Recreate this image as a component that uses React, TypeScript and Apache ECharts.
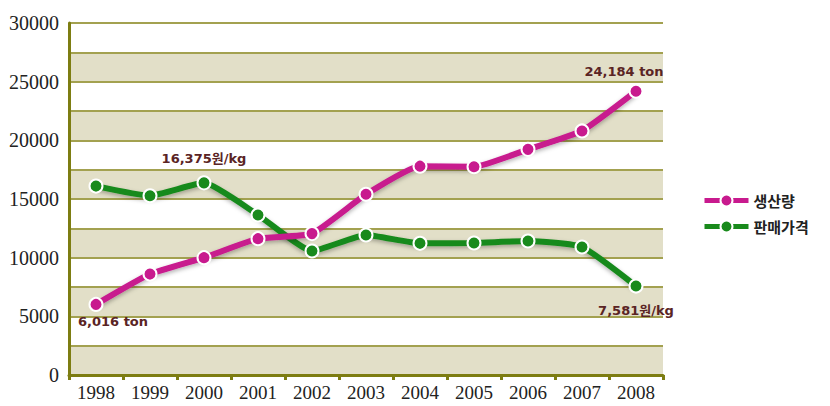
import React, { useEffect, useRef } from "react";
import * as echarts from "echarts";

const years = ["1998", "1999", "2000", "2001", "2002", "2003", "2004", "2005", "2006", "2007", "2008"];
const production = [6016, 8600, 10000, 11620, 12050, 15400, 17800, 17750, 19230, 20800, 24184];
const price = [16100, 15280, 16375, 13640, 10570, 11930, 11220, 11250, 11420, 10910, 7581];
const seriesNames = ["생산량", "판매가격"];
const prodLabels: Record<number, string> = { 0: "6,016 ton", 10: "24,184 ton" };
const priceLabels: Record<number, string> = { 2: "16,375원/kg", 10: "7,581원/kg" };

const labelFont = {
  color: "#5a2424",
  fontWeight: "bold" as const,
  fontSize: 13,
  fontFamily: "DejaVu Sans, Noto Sans CJK KR, sans-serif",
};

export default function App() {
  const ref = useRef<HTMLDivElement>(null);
  useEffect(() => {
    const chart = echarts.init(ref.current!, null, { renderer: "svg" });
    const prodData = production.map((v, i) => {
      if (prodLabels[i] === undefined) return v;
      return {
        value: v,
        label: {
          show: true,
          formatter: prodLabels[i],
          position: i === 0 ? "bottom" : "top",
          distance: i === 0 ? 3 : 6,
          offset: i === 0 ? [17, 0] : [-12, 0],
          ...labelFont,
        },
      };
    });
    const priceData = price.map((v, i) => {
      if (priceLabels[i] === undefined) return v;
      return {
        value: v,
        label: {
          show: true,
          formatter: priceLabels[i],
          position: i === 2 ? "top" : "bottom",
          distance: 10,
          offset: [0, 0],
          ...labelFont,
        },
      };
    });
    const axisColor = "#7d7d12";
    chart.setOption({
      animation: false,
      backgroundColor: "#ffffff",
      grid: { left: 69, right: 167, top: 23, bottom: 31 },
      legend: {
        orient: "vertical",
        left: 697,
        top: 188,
        itemWidth: 44,
        itemHeight: 15,
        itemGap: 11,
        data: seriesNames,
        lineStyle: { width: 5 },
        itemStyle: { borderWidth: 2, borderColor: "#ffffff" },
        textStyle: {
          color: "#222",
          fontWeight: "bold",
          fontSize: 15,
          fontFamily: "Noto Sans CJK KR, sans-serif",
        },
      },
      xAxis: {
        type: "category",
        data: years,
        boundaryGap: true,
        axisLine: { lineStyle: { color: axisColor, width: 3 } },
        axisTick: { show: true, alignWithLabel: false, length: 5, lineStyle: { color: axisColor, width: 3 } },
        axisLabel: {
          color: "#222",
          fontSize: 19,
          fontFamily: "Liberation Serif, serif",
          margin: 8,
        },
        splitLine: { show: false },
      },
      yAxis: {
        type: "value",
        min: 0,
        max: 30000,
        interval: 2500,
        axisLine: { show: true, lineStyle: { color: axisColor, width: 3 } },
        axisTick: { show: false },
        axisLabel: {
          color: "#222",
          fontSize: 20,
          fontFamily: "Liberation Serif, serif",
          margin: 10,
          formatter: (v: number) => (v % 5000 === 0 ? String(v) : ""),
        },
        splitLine: { show: true, lineStyle: { color: "#a3a150", width: 2 } },
        splitArea: { show: true, areaStyle: { color: ["#e2dfc8", "#ffffff"] } },
      },
      series: [
        {
          name: seriesNames[0],
          type: "line",
          data: prodData,
          smooth: 0.15,
          symbol: "circle",
          symbolSize: 13,
          z: 3,
          lineStyle: {
            color: "#c81a8e",
            width: 6,
            shadowColor: "rgba(0,0,0,0.3)",
            shadowBlur: 4,
            shadowOffsetY: 2,
          },
          itemStyle: { color: "#c81a8e", borderColor: "#ffffff", borderWidth: 2 },
        },
        {
          name: seriesNames[1],
          type: "line",
          data: priceData,
          smooth: 0.15,
          symbol: "circle",
          symbolSize: 13,
          z: 2,
          lineStyle: {
            color: "#198a1c",
            width: 6,
            shadowColor: "rgba(0,0,0,0.3)",
            shadowBlur: 4,
            shadowOffsetY: 2,
          },
          itemStyle: { color: "#198a1c", borderColor: "#ffffff", borderWidth: 2 },
        },
      ],
    });
    return () => chart.dispose();
  }, []);
  return <div ref={ref} style={{ width: 830, height: 406, position: "absolute", left: 0, top: 0 }} />;
}
